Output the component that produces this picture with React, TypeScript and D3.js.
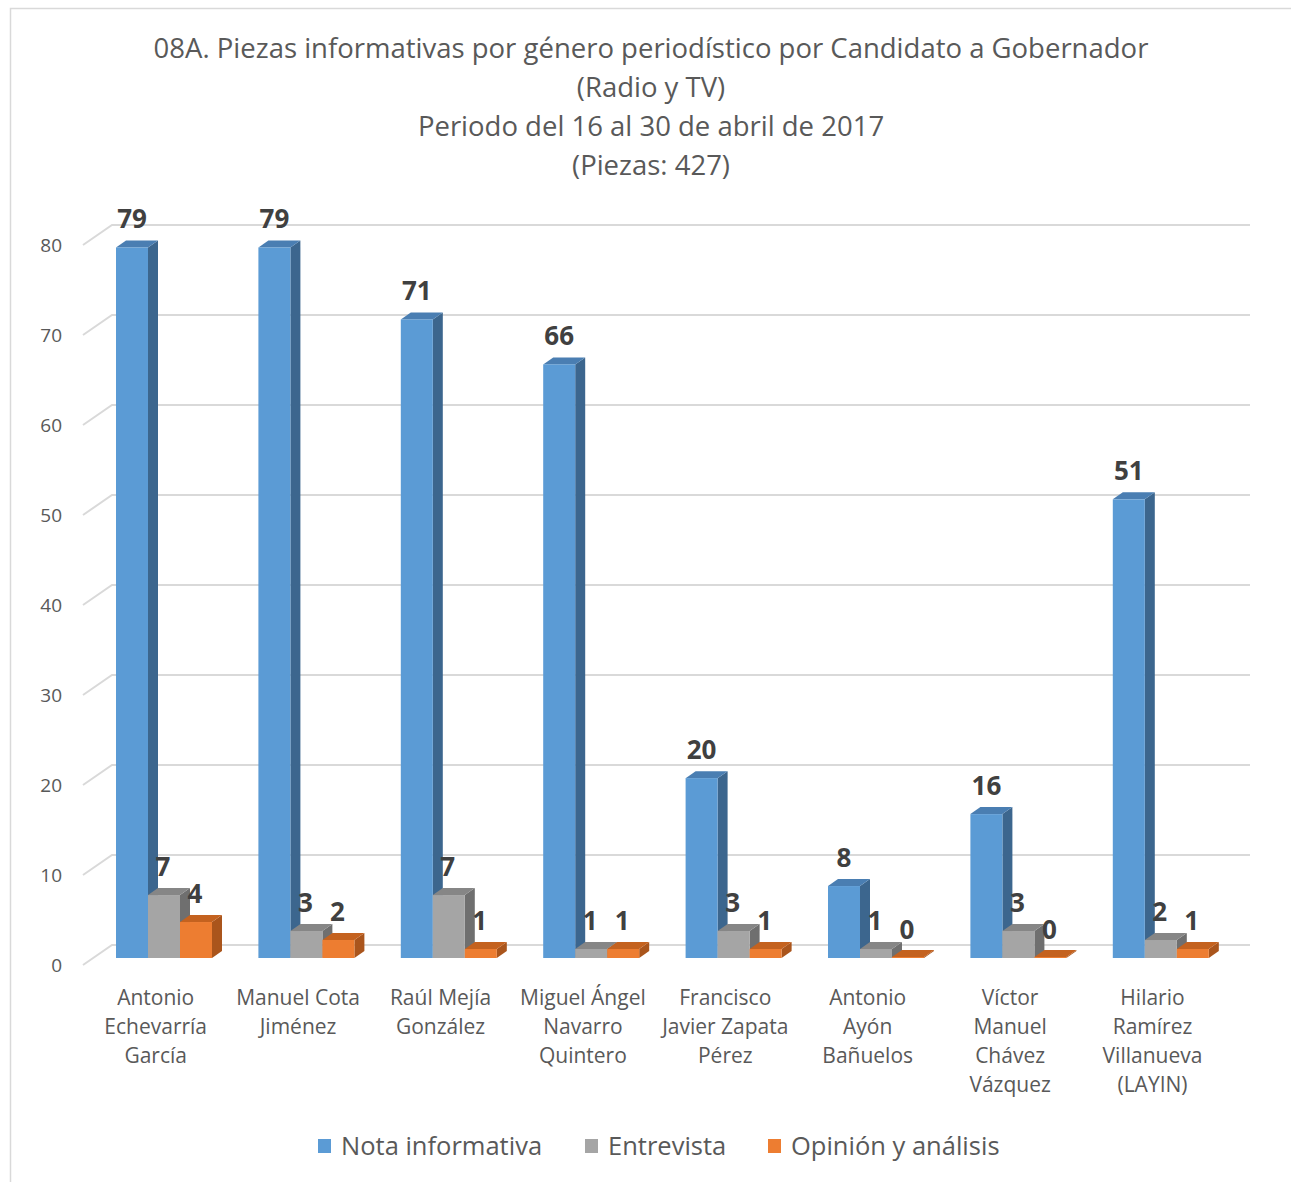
import React from "react";
import * as d3 from "d3";

const candidates = [
  ["Antonio", "Echevarría", "García"],
  ["Manuel Cota", "Jiménez"],
  ["Raúl Mejía", "González"],
  ["Miguel Ángel", "Navarro", "Quintero"],
  ["Francisco", "Javier Zapata", "Pérez"],
  ["Antonio", "Ayón", "Bañuelos"],
  ["Víctor", "Manuel", "Chávez", "Vázquez"],
  ["Hilario", "Ramírez", "Villanueva", "(LAYIN)"],
];

const seriesNames = ["Nota informativa", "Entrevista", "Opinión y análisis"];
const notaInformativa = [79, 79, 71, 66, 20, 8, 16, 51];
const entrevista = [7, 3, 7, 1, 3, 1, 3, 2];
const opinionAnalisis = [4, 2, 1, 1, 1, 0, 0, 1];
const yTicks = [0, 10, 20, 30, 40, 50, 60, 70, 80];

const titleLines = [
  "08A. Piezas informativas por género periodístico por Candidato a Gobernador",
  "(Radio y TV)",
  "Periodo del 16 al 30 de abril de 2017",
  "(Piezas: 427)",
];

const colors = [
  { front: "#5B9BD5", side: "#3C668E", top: "#4A7EB2" },
  { front: "#A5A5A5", side: "#6F6F6F", top: "#868686" },
  { front: "#ED7D31", side: "#AA551C", top: "#C4621F" },
];

const font = "'Open Sans', Lato, sans-serif";
const textGray = "#595959";

export default function App() {
  const W = 1291;
  const H = 1182;
  const series = [notaInformativa, entrevista, opinionAnalisis];

  // floor/wall geometry
  const floorFront = { x: 83, y: 965 };
  const depth = { dx: 29, dy: -20 };
  const wallRight = 1250;
  const barDepth = { dx: 10, dy: -7 };

  const wallY = d3.scaleLinear().domain([0, 80]).range([945, 225]);
  const sideY = d3.scaleLinear().domain([0, 80]).range([965, 245]);
  const barY = d3.scaleLinear().domain([0, 80]).range([958, 238.5]);

  const xBand = d3
    .scaleBand<number>()
    .domain(d3.range(candidates.length))
    .range([83.5, 83.5 + 142.4 * candidates.length])
    .paddingInner(0)
    .paddingOuter(0);
  const step = xBand.step();
  const barW = 32;
  const barOffset = 32.5;

  const bars: JSX.Element[] = [];
  const labels: JSX.Element[] = [];
  candidates.forEach((_, i) => {
    series.forEach((vals, s) => {
      const v = vals[i];
      const x = (xBand(i) as number) + barOffset + s * barW;
      const yb = barY(0);
      const yt = Math.min(barY(v), yb - 1);
      const c = colors[s];
      const { dx, dy } = barDepth;
      bars.push(
        <g key={`b${i}-${s}`}>
          <polygon
            points={`${x + barW},${yt} ${x + barW + dx},${yt + dy} ${x + barW + dx},${yb + dy} ${x + barW},${yb}`}
            fill={c.side}
          />
          <polygon
            points={`${x},${yt} ${x + dx},${yt + dy} ${x + barW + dx},${yt + dy} ${x + barW},${yt}`}
            fill={c.top}
          />
          <rect x={x} y={yt} width={barW} height={yb - yt} fill={c.front} />
        </g>
      );
      labels.push(
        <text
          key={`l${i}-${s}`}
          x={x + barW / 2 + (s === 0 ? 0 : -1)}
          y={barY(v) - 19}
          textAnchor="middle"
          fontFamily={font}
          fontWeight="bold"
          fontSize={26}
          fill="#404040"
        >
          {v}
        </text>
      );
    });
  });

  const legendItems = [
    { sx: 318, tx: 341 },
    { sx: 585, tx: 608 },
    { sx: 768, tx: 791 },
  ];

  return (
    <svg
      width={W}
      height={H}
      style={{ position: "absolute", left: 0, top: 0, background: "#fff" }}
    >
      <rect x={10.5} y={8.5} width={W} height={H} fill="#fff" stroke="#D9D9D9" strokeWidth={1.5} />

      {/* title */}
      {titleLines.map((t, i) => (
        <text
          key={i}
          x={651}
          y={58 + i * 39}
          textAnchor="middle"
          fontFamily={font}
          fontSize={27.5}
          fill={textGray}
        >
          {t}
        </text>
      ))}

      {/* gridlines: side wall + back wall */}
      {yTicks.map((t) => (
        <g key={t}>
          <polyline
            points={`${floorFront.x},${sideY(t)} ${floorFront.x + depth.dx},${wallY(t)} ${wallRight},${wallY(t)}`}
            fill="none"
            stroke="#D9D9D9"
            strokeWidth={2}
          />
          <text
            x={62}
            y={sideY(t) + 7}
            textAnchor="end"
            fontFamily={font}
            fontSize={19}
            fill={textGray}
          >
            {t}
          </text>
        </g>
      ))}

      {bars}
      {labels}

      {/* category labels */}
      {candidates.map((lines, i) => (
        <text
          key={i}
          x={(xBand(i) as number) + step / 2 + 1}
          y={1005}
          textAnchor="middle"
          fontFamily={font}
          fontSize={21}
          fill={textGray}
        >
          {lines.map((l, j) => (
            <tspan key={j} x={(xBand(i) as number) + step / 2 + 1} dy={j === 0 ? 0 : 29}>
              {l}
            </tspan>
          ))}
        </text>
      ))}

      {/* legend */}
      {seriesNames.map((n, s) => (
        <g key={n}>
          <rect x={legendItems[s].sx} y={1139} width={13} height={14} fill={colors[s].front} />
          <text
            x={legendItems[s].tx}
            y={1155}
            fontFamily={font}
            fontSize={25.5}
            fill={textGray}
          >
            {n}
          </text>
        </g>
      ))}
    </svg>
  );
}
